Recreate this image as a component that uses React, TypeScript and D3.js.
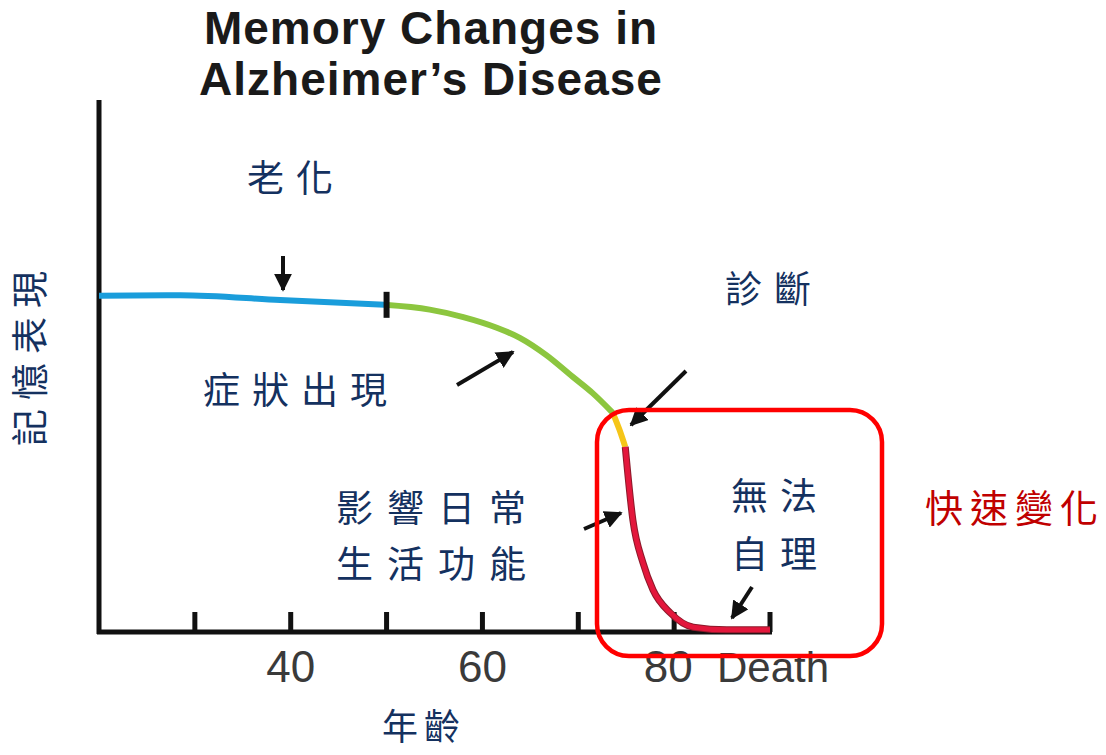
import React from "react";
import * as d3 from "d3";

const W = 1106;
const H = 755;

const xTicks = [30, 40, 50, 60, 70, 80, 90];
const xTickLabels = ["", "40", "", "60", "", "80", "Death"];

const blueAge = [20, 28.5, 38.9, 49.8];
const blueMem = [63.2, 63.3, 62.4, 61.5];
const greenAge = [49.8, 54.5, 58, 61.5, 63.9, 66.7, 69.4, 71.5, 73.6];
const greenMem = [61.5, 60.6, 59.2, 57.2, 55.3, 52, 48, 44.9, 41.2];
const yellowAge = [73.6, 74.3, 74.9];
const yellowMem = [41.2, 38, 34.8];
const redAge = [74.9, 75.7, 76.75, 77.8, 79.6, 82, 85.5, 90];
const redMem = [34.8, 21, 13, 7.9, 3.6, 0.9, 0.4, 0.4];

const titleLines = ["Memory Changes in", "Alzheimer\u2019s Disease"];
const xAxisLabel = "年齡";
const yAxisLabel = "記憶表現";
const rightLabel = "快速變化";

export default function App() {
  const x = d3.scaleLinear().domain([20, 90]).range([99, 770]);
  const y = d3.scaleLinear().domain([0, 100]).range([632, 100]);
  const line = d3
    .line<[number, number]>()
    .x((d) => x(d[0]))
    .y((d) => y(d[1]))
    .curve(d3.curveMonotoneX);
  const seg = (a: number[], m: number[]) => line(a.map((v, i) => [v, m[i]] as [number, number])) || "";

  const navy = "#14315f";
  const cjk = "'Noto Sans CJK TC', 'Noto Sans CJK SC', sans-serif";
  const textStyle = { fontFamily: cjk, fontSize: 37, fill: navy, letterSpacing: 12 } as any;

  const arrows: [number, number, number, number][] = [
    [283, 256, 283, 290],
    [457, 385, 513, 352],
    [686, 371, 631, 425],
    [584, 529, 621, 513],
    [752, 587, 732, 618],
  ];

  return (
    <svg width={W} height={H} style={{ position: "absolute", left: 0, top: 0, background: "#fff" }}>
      <defs>
        <marker id="ah" viewBox="0 0 10 10" refX="9" refY="5" markerWidth="4.5" markerHeight="4.5" orient="auto" markerUnits="strokeWidth">
          <path d="M0,0 L10,5 L0,10 z" fill="#111" />
        </marker>
      </defs>
      <rect width={W} height={H} fill="#fff" />
      {/* title */}
      {titleLines.map((t, i) => (
        <text key={i} x={431} y={44 + i * 51} textAnchor="middle" fontFamily="'Liberation Sans', Arial, sans-serif" fontWeight="bold" fontSize={46} fill="#1a1a1a" letterSpacing={1}>
          {t}
        </text>
      ))}
      {/* axes */}
      <line x1={x(20)} x2={x(20)} y1={100} y2={634} stroke="#111" strokeWidth={5} />
      <line x1={x(20) - 2} x2={x(90) + 2} y1={y(0)} y2={y(0)} stroke="#111" strokeWidth={5} />
      {xTicks.map((t, i) => (
        <g key={t}>
          <line x1={x(t)} x2={x(t)} y1={y(0)} y2={y(0) - 20} stroke="#111" strokeWidth={5} />
          {xTickLabels[i] && (
            <text x={x(t) - (t === 80 ? 6 : 0) - (t === 90 ? -3 : 0)} y={682} textAnchor="middle" fontFamily="'Liberation Sans', Arial, sans-serif" fontSize={t === 90 ? 42 : 44} fill="#3a3a3a">
              {xTickLabels[i]}
            </text>
          )}
        </g>
      ))}
      {/* curve */}
      <path d={seg(blueAge, blueMem)} fill="none" stroke="#1a9ddb" strokeWidth={6} />
      <path d={seg(greenAge, greenMem)} fill="none" stroke="#8cc63f" strokeWidth={6} />
      <path d={seg(yellowAge, yellowMem)} fill="none" stroke="#f5c518" strokeWidth={6} />
      <path d={seg(redAge, redMem)} fill="none" stroke="#8b1a2a" strokeWidth={7} />
      <path d={seg(redAge, redMem)} fill="none" stroke="#e3173c" strokeWidth={5} />
      <line x1={x(50)} x2={x(50)} y1={y(61.5) - 13} y2={y(61.5) + 13} stroke="#111" strokeWidth={6} />
      {/* arrows */}
      {arrows.map((a, i) => (
        <line key={i} x1={a[0]} y1={a[1]} x2={a[2]} y2={a[3]} stroke="#111" strokeWidth={4} markerEnd="url(#ah)" />
      ))}
      {/* red box */}
      <rect x={597} y={410} width={285} height={246} rx={32} ry={32} fill="none" stroke="#ff0000" strokeWidth={4.5} />
      {/* annotations */}
      <text x={296} y={192} textAnchor="middle" style={textStyle}>老化</text>
      <text x={774} y={303} textAnchor="middle" style={textStyle}>診斷</text>
      <text x={301} y={404} textAnchor="middle" style={textStyle}>症狀出現</text>
      <text x={438} y={522} textAnchor="middle" style={{ ...textStyle, letterSpacing: 14 }}>影響日常</text>
      <text x={438} y={578} textAnchor="middle" style={{ ...textStyle, letterSpacing: 14 }}>生活功能</text>
      <text x={780} y={510} textAnchor="middle" style={textStyle}>無法</text>
      <text x={780} y={568} textAnchor="middle" style={textStyle}>自理</text>
      <text x={1015} y={522} textAnchor="middle" style={{ ...textStyle, fill: "#c00000", letterSpacing: 7, fontSize: 38 }}>{rightLabel}</text>
      <text x={424} y={740} textAnchor="middle" style={{ ...textStyle, fontSize: 36, letterSpacing: 6 }}>{xAxisLabel}</text>
      <text transform="translate(44,354) rotate(-90)" textAnchor="middle" style={{ ...textStyle, letterSpacing: 9 }}>{yAxisLabel}</text>
    </svg>
  );
}
